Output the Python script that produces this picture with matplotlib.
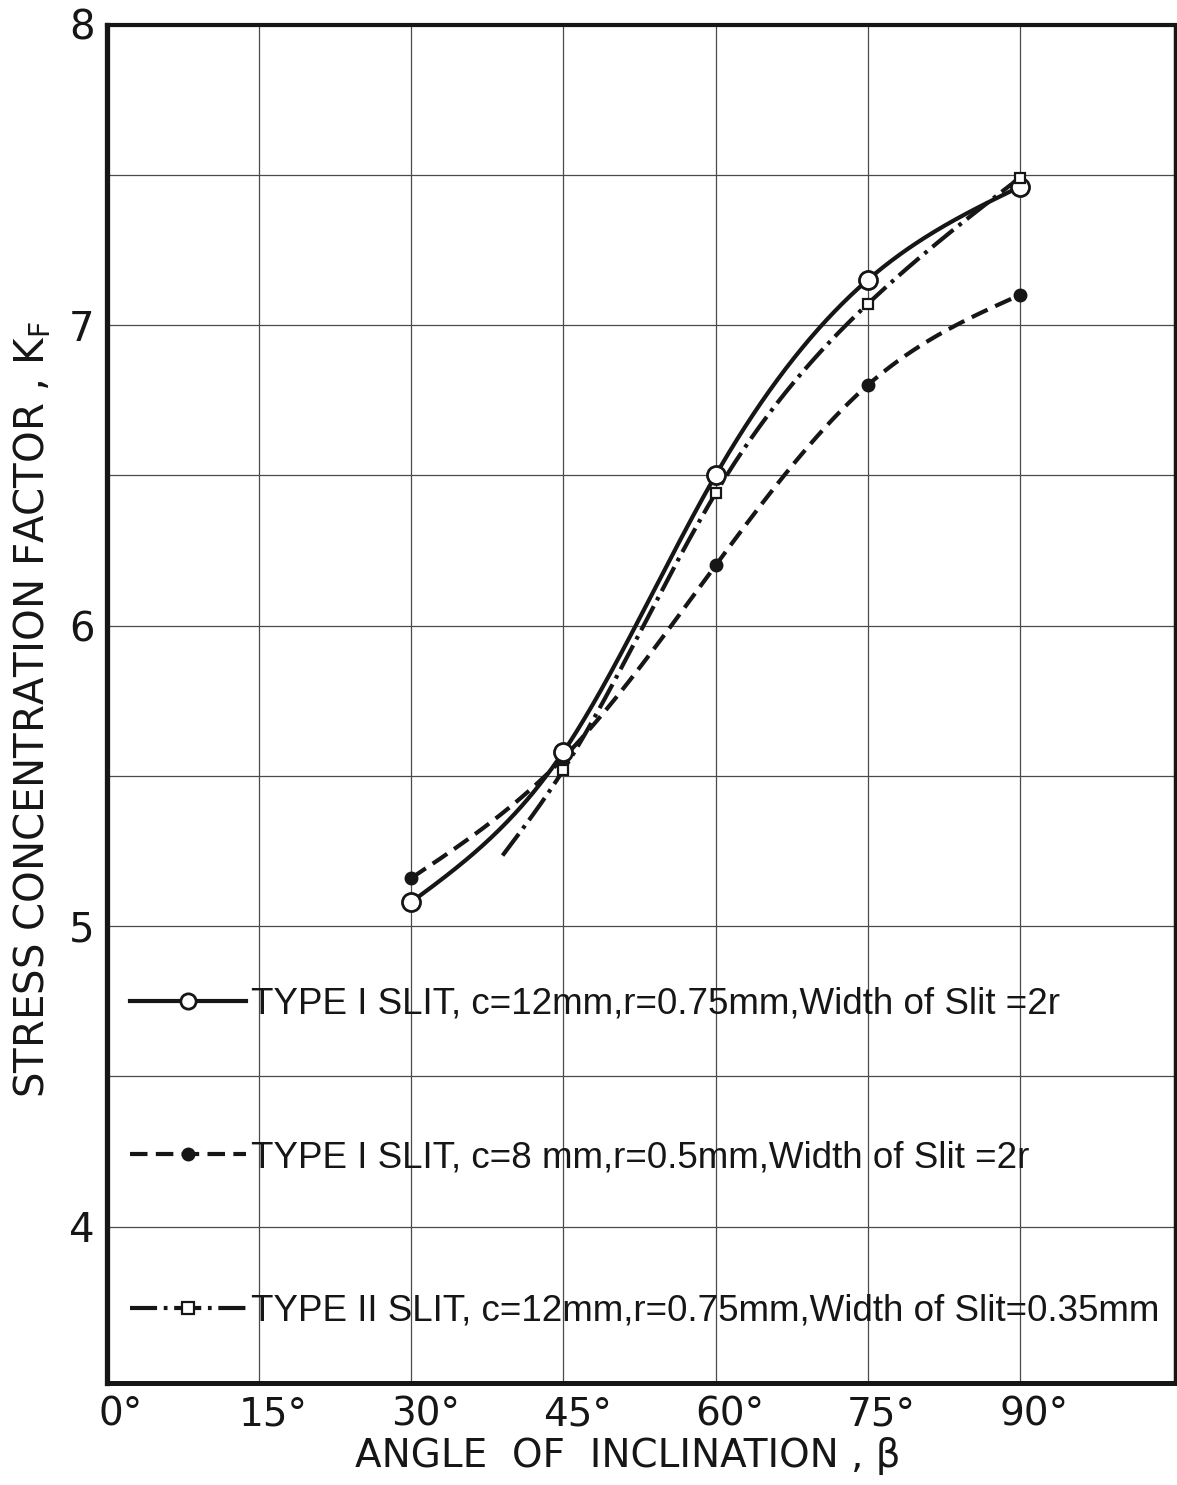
import numpy as np
import matplotlib
matplotlib.use("Agg")
import matplotlib.pyplot as plt
import matplotlib.transforms as mtransforms
from matplotlib.lines import Line2D

# ---------------- data ----------------
angles = [30, 45, 60, 75, 90]
kf_type1_c12 = [5.08, 5.58, 6.50, 7.15, 7.46]      # open circles, solid
kf_type1_c8 = [5.16, 5.56, 6.20, 6.80, 7.10]       # filled dots, dashed
angles_type2 = [45, 60, 75, 90]
kf_type2_c12 = [5.52, 6.44, 7.07, 7.49]            # squares, dash-dot
type2_curve_start = (39, 5.235)                     # where the drawn dash-dot curve begins

x_ticks = [0, 15, 30, 45, 60, 75, 90]
x_tick_labels = ["0°", "15°", "30°", "45°", "60°", "75°", "90°"]
y_ticks = [4, 5, 6, 7, 8]
y_tick_labels = ["4", "5", "6", "7", "8"]

legend_labels = [
    "TYPE I SLIT, c=12mm,r=0.75mm,Width of Slit =2r",
    "TYPE I SLIT, c=8 mm,r=0.5mm,Width of Slit =2r",
    "TYPE II SLIT, c=12mm,r=0.75mm,Width of Slit=0.35mm",
]
x_label = "ANGLE  OF  INCLINATION , β"
y_label = r"STRESS CONCENTRATION FACTOR , K$_\mathregular{F}$"


def smooth_curve(x, y, n=300):
    """Natural cubic spline through the given points (drawing aid for the hand-drawn curves)."""
    x = np.asarray(x, float)
    y = np.asarray(y, float)
    k = len(x)
    h = np.diff(x)
    A = np.zeros((k, k))
    r = np.zeros(k)
    A[0, 0] = A[-1, -1] = 1.0
    for i in range(1, k - 1):
        A[i, i - 1] = h[i - 1]
        A[i, i] = 2 * (h[i - 1] + h[i])
        A[i, i + 1] = h[i]
        r[i] = 3 * ((y[i + 1] - y[i]) / h[i] - (y[i] - y[i - 1]) / h[i - 1])
    c = np.linalg.solve(A, r)
    b = (y[1:] - y[:-1]) / h - h * (2 * c[:-1] + c[1:]) / 3
    d = (c[1:] - c[:-1]) / (3 * h)
    xs = np.linspace(x[0], x[-1], n)
    idx = np.clip(np.searchsorted(x, xs) - 1, 0, k - 2)
    dx = xs - x[idx]
    ys = y[idx] + b[idx] * dx + c[idx] * dx ** 2 + d[idx] * dx ** 3
    return xs, ys


INK = "#161616"
GRID = "#4a4a4a"
plt.rcParams["font.family"] = ["DejaVu Sans"]

fig = plt.figure(figsize=(11.77, 14.85), dpi=100)
ax = fig.add_axes([107 / 1177, 1 - 1383 / 1485, (1175 - 107) / 1177, (1383 - 24.5) / 1485])
ax.set_xlim(0, 105.3)
ax.set_ylim(3.48, 8.0)

# grid
ax.set_xticks(x_ticks)
ax.set_xticklabels(x_tick_labels)
ax.set_yticks(y_ticks)
ax.set_yticklabels(y_tick_labels)
ax.set_yticks([4.5, 5.5, 6.5, 7.5], minor=True)
ax.grid(True, which="both", color=GRID, linewidth=0.9)
ax.set_axisbelow(True)
ax.tick_params(which="both", length=0)
ax.tick_params(axis="x", pad=9, labelsize=28, colors=INK)
ax.tick_params(axis="y", pad=9, labelsize=29, colors=INK)
shift = mtransforms.ScaledTranslation(0.14, 0, fig.dpi_scale_trans)
for lab in ax.get_xticklabels():
    lab.set_transform(lab.get_transform() + shift)

for side, lw in (("left", 3.8), ("bottom", 3.6), ("top", 3.0), ("right", 2.5)):
    ax.spines[side].set_linewidth(lw)
    ax.spines[side].set_color(INK)

LW = 3.0
ls_dash = (0, (4.2, 2.0))
ls_dashdot = (0, (6.5, 1.6, 0.9, 1.6))

# Type I, c=12 mm : solid + open circles
xs, ys = smooth_curve(angles, kf_type1_c12)
ax.plot(xs, ys, color=INK, lw=LW, solid_capstyle="butt", zorder=3)
ax.plot(angles, kf_type1_c12, linestyle="none", marker="o", ms=13, mfc="white",
        mec=INK, mew=2.0, zorder=5)

# Type I, c=8 mm : dashed + filled dots
xs, ys = smooth_curve(angles, kf_type1_c8)
ax.plot(xs, ys, color=INK, lw=LW, linestyle=ls_dash, dash_capstyle="butt", zorder=3)
ax.plot(angles, kf_type1_c8, linestyle="none", marker="o", ms=9, mfc=INK,
        mec=INK, zorder=4)

# Type II, c=12 mm : dash-dot + squares
xs, ys = smooth_curve([type2_curve_start[0]] + angles_type2,
                      [type2_curve_start[1]] + kf_type2_c12)
ax.plot(xs, ys, color=INK, lw=LW, linestyle=ls_dashdot, dash_capstyle="butt", zorder=3)
ax.plot(angles_type2, kf_type2_c12, linestyle="none", marker="s", ms=7.5, mfc="white",
        mec=INK, mew=1.6, zorder=6)

# legend (no frame, inside the axes)
handles = [
    Line2D([], [], color=INK, lw=LW, marker="o", ms=11, mfc="white", mec=INK, mew=2.0),
    Line2D([], [], color=INK, lw=LW, linestyle=ls_dash, marker="o", ms=9, mfc=INK, mec=INK),
    Line2D([], [], color=INK, lw=LW, linestyle=ls_dashdot, marker="s", ms=8, mfc="white",
           mec=INK, mew=1.6),
]
leg = ax.legend(handles, legend_labels, loc="center left",
                bbox_to_anchor=((130 - 107) / 1068, (1383 - 1157.5) / 1358.5),
                frameon=False, borderpad=0, borderaxespad=0, numpoints=1,
                handlelength=3.14, handletextpad=0.14, labelspacing=3.22,
                prop={"family": ["Liberation Sans", "DejaVu Sans"], "size": 26.5})
for t in leg.get_texts():
    t.set_color(INK)

ax.set_xlabel(x_label, fontsize=28, color=INK)
ax.xaxis.set_label_coords(0.488, -0.040)
ax.set_ylabel(y_label, fontsize=29, color=INK)
ax.yaxis.set_label_coords(-0.050, 0.496)

fig.savefig("out.png", dpi=100, facecolor="white")
